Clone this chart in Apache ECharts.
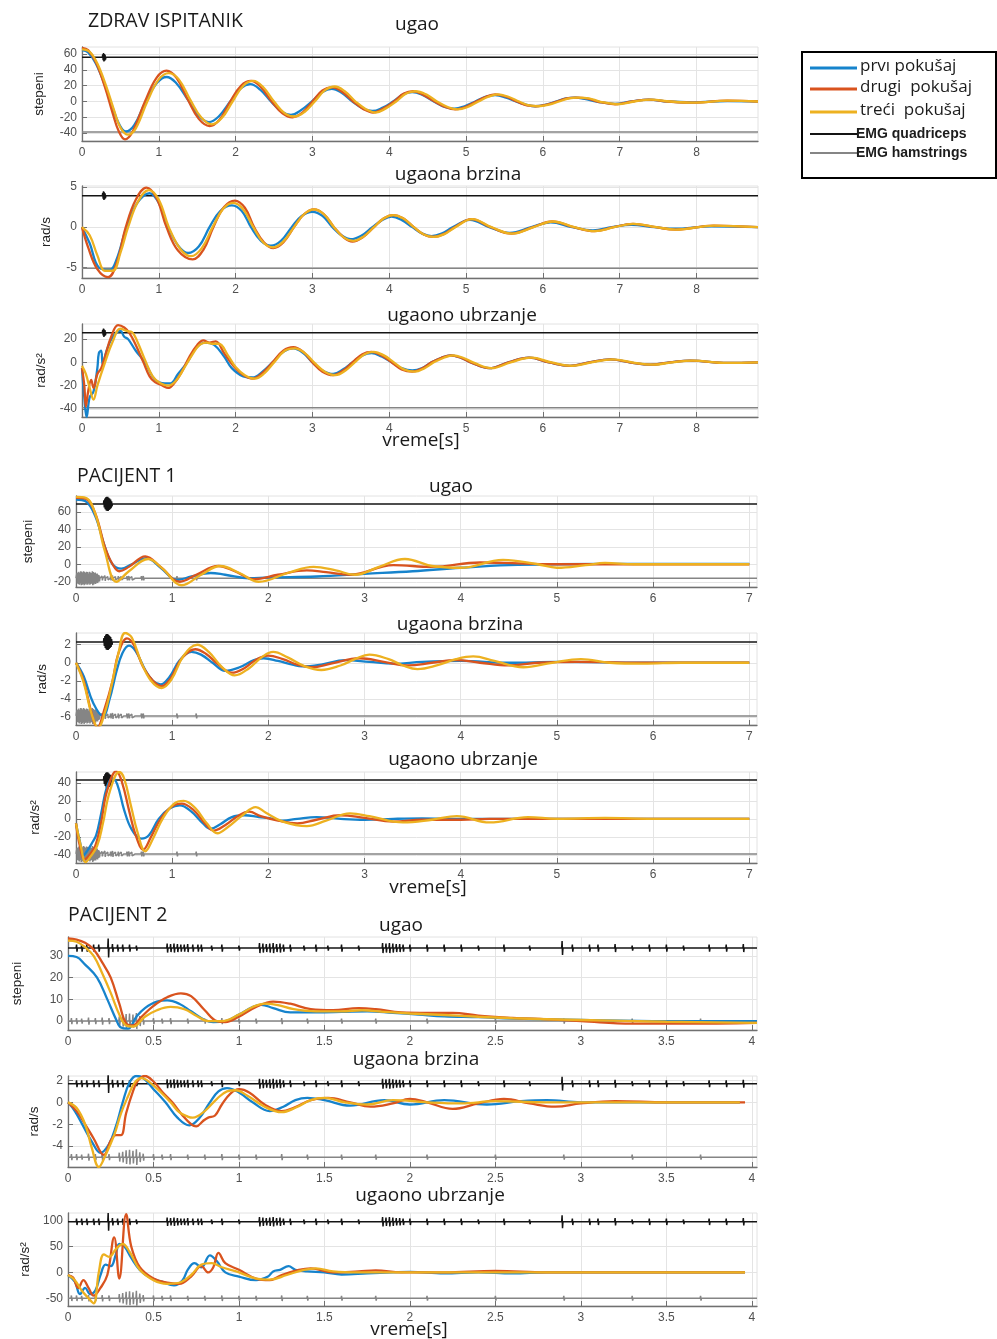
<!DOCTYPE html>
<html><head><meta charset="utf-8">
<script src="https://cdn.jsdelivr.net/npm/echarts@6/dist/echarts.min.js"></script>
<style>html,body{margin:0;padding:0;background:#fff}#c{width:997px;height:1339px}</style>
</head><body><div id="c"></div>
<script>
// ---------- tick labels ----------
const xTicksZ = [0,1,2,3,4,5,6,7,8];
const xTicksP1 = [0,1,2,3,4,5,6,7];
const xTicksP2 = [0,0.5,1,1.5,2,2.5,3,3.5,4];
const yTicksZ1 = [-40,-20,0,20,40,60];
const yTicksZ2 = [-5,0,5];
const yTicksZ3 = [-40,-20,0,20];
const yTicksP1a = [-20,0,20,40,60];
const yTicksP1b = [-6,-4,-2,0,2];
const yTicksP1c = [-40,-20,0,20,40];
const yTicksP2a = [0,10,20,30];
const yTicksP2b = [-4,-2,0,2];
const yTicksP2c = [-50,0,50,100];

// ---------- ZDRAV ISPITANIK ----------
const zUgaoPrvi = [[0,65],[0.08,62],[0.18,48],[0.3,20],[0.4,-8],[0.48,-28],[0.57,-38],[0.68,-30],[0.83,0],[0.98,24],[1.1,31],[1.22,24],[1.38,2],[1.52,-18],[1.65,-26],[1.78,-19],[1.93,0],[2.07,17],[2.19,22],[2.32,15],[2.46,0],[2.6,-13],[2.72,-17],[2.85,-11],[2.99,0],[3.13,12],[3.25,16],[3.38,11],[3.52,0],[3.66,-9],[3.78,-12],[3.91,-8],[4.05,0],[4.18,9],[4.3,12],[4.44,8],[4.58,0],[4.72,-7],[4.85,-9],[4.98,-6],[5.12,0],[5.25,6],[5.38,8],[5.52,5],[5.65,0],[5.78,-4],[5.9,-6],[6.04,-4],[6.17,0],[6.3,4],[6.42,5],[6.56,3],[6.7,0],[6.93,-3],[7.15,0],[7.38,2.5],[7.62,0],[7.95,-1],[8.4,0.5],[8.8,0]];
const zUgaoDrugi = [[0,68],[0.08,65],[0.18,50],[0.3,18],[0.4,-15],[0.48,-38],[0.56,-48],[0.66,-38],[0.82,0],[0.97,30],[1.1,39],[1.23,30],[1.38,2],[1.52,-22],[1.66,-31],[1.79,-23],[1.93,0],[2.07,20],[2.2,26],[2.33,18],[2.47,0],[2.61,-15],[2.74,-20],[2.87,-14],[3.0,0],[3.13,14],[3.26,18],[3.39,12],[3.53,0],[3.67,-10],[3.79,-14],[3.92,-9],[4.06,0],[4.19,10],[4.31,13],[4.45,8],[4.59,0],[4.73,-7],[4.86,-10],[4.99,-7],[5.13,0],[5.26,6],[5.38,9],[5.52,6],[5.66,0],[5.79,-5],[5.91,-6],[6.05,-4],[6.18,0],[6.31,4],[6.43,5],[6.57,4],[6.71,0],[6.94,-3.5],[7.16,0],[7.38,2.5],[7.63,0],[7.96,-1.5],[8.4,1],[8.8,0]];
const zUgaoTreci = [[0,66],[0.1,63],[0.2,48],[0.32,18],[0.42,-12],[0.5,-33],[0.6,-42],[0.7,-34],[0.85,0],[1.0,28],[1.13,36],[1.26,28],[1.41,2],[1.55,-20],[1.69,-29],[1.82,-21],[1.96,0],[2.1,20],[2.23,26],[2.36,18],[2.5,0],[2.64,-15],[2.77,-19],[2.9,-13],[3.03,0],[3.16,14],[3.29,19],[3.42,13],[3.56,0],[3.7,-10],[3.82,-14],[3.95,-9],[4.09,0],[4.22,10],[4.34,13],[4.48,9],[4.62,0],[4.76,-7],[4.89,-10],[5.02,-7],[5.16,0],[5.29,6],[5.41,9],[5.55,6],[5.69,0],[5.82,-5],[5.94,-6],[6.08,-4],[6.21,0],[6.34,4],[6.46,5],[6.6,4],[6.74,0],[6.97,-3.5],[7.19,0],[7.41,2.5],[7.66,0],[7.99,-1.5],[8.4,1],[8.8,0]];

const zBrzinaPrvi = [[0,0],[0.1,-2],[0.22,-5],[0.36,-5.3],[0.45,-4],[0.58,0],[0.72,3],[0.88,4.2],[1.0,3],[1.12,0],[1.26,-2.4],[1.38,-3.2],[1.52,-2.4],[1.66,0],[1.8,2],[1.95,2.7],[2.08,2],[2.2,0],[2.33,-1.7],[2.46,-2.3],[2.59,-1.7],[2.73,0],[2.86,1.4],[3.0,1.9],[3.13,1.4],[3.26,0],[3.39,-1.1],[3.5,-1.5],[3.63,-1.1],[3.78,0],[3.91,0.9],[4.03,1.3],[4.16,0.9],[4.3,0],[4.43,-0.8],[4.55,-1.1],[4.68,-0.8],[4.83,0],[5.05,0.9],[5.3,0],[5.57,-0.7],[5.85,0],[6.1,0.6],[6.38,0],[6.65,-0.4],[6.9,0],[7.15,0.3],[7.45,0],[7.7,-0.2],[8.2,0.1],[8.8,0]];
const zBrzinaDrugi = [[0,0],[0.08,-2.5],[0.2,-5.2],[0.34,-6.2],[0.45,-4.5],[0.57,0],[0.7,3.4],[0.84,4.9],[0.97,3.6],[1.1,0],[1.25,-2.9],[1.44,-4.0],[1.58,-2.8],[1.71,0],[1.85,2.5],[1.99,3.3],[2.12,2.4],[2.24,0],[2.37,-1.9],[2.49,-2.6],[2.62,-1.9],[2.76,0],[2.89,1.6],[3.02,2.2],[3.15,1.6],[3.28,0],[3.41,-1.3],[3.52,-1.8],[3.65,-1.3],[3.8,0],[3.93,1.1],[4.05,1.5],[4.18,1.1],[4.32,0],[4.45,-0.9],[4.57,-1.2],[4.7,-0.9],[4.85,0],[5.07,1.0],[5.32,0],[5.59,-0.8],[5.87,0],[6.12,0.7],[6.4,0],[6.67,-0.5],[6.92,0],[7.17,0.4],[7.47,0],[7.72,-0.3],[8.22,0.2],[8.8,0]];
const zBrzinaTreci = [[0,0],[0.1,-1],[0.2,-3.5],[0.3,-5.4],[0.4,-5.4],[0.5,-3.2],[0.6,0],[0.73,3.2],[0.87,4.6],[1.0,3.4],[1.13,0],[1.28,-2.7],[1.42,-3.6],[1.56,-2.6],[1.7,0],[1.84,2.3],[1.97,3.0],[2.1,2.2],[2.23,0],[2.36,-1.9],[2.49,-2.5],[2.62,-1.8],[2.76,0],[2.89,1.6],[3.02,2.2],[3.15,1.6],[3.28,0],[3.41,-1.3],[3.53,-1.7],[3.66,-1.2],[3.8,0],[3.93,1.1],[4.05,1.5],[4.18,1.1],[4.32,0],[4.45,-0.9],[4.58,-1.2],[4.71,-0.9],[4.86,0],[5.08,1.0],[5.33,0],[5.6,-0.8],[5.88,0],[6.13,0.7],[6.41,0],[6.68,-0.5],[6.93,0],[7.18,0.4],[7.48,0],[7.73,-0.3],[8.23,0.2],[8.8,0]];

const zUbrzanjePrvi = [[0,-5],[0.03,-30],[0.06,-47],[0.1,-30],[0.15,-25],[0.2,-5],[0.22,8],[0.25,10],[0.27,-2],[0.32,10],[0.4,22],[0.5,27],[0.55,22],[0.6,20],[0.7,10],[0.82,0],[0.95,-15],[1.08,-18],[1.15,-18],[1.25,-10],[1.37,0],[1.48,12],[1.6,17],[1.72,15],[1.85,5],[1.95,-5],[2.1,-12],[2.22,-13],[2.35,-8],[2.48,0],[2.62,9],[2.75,12],[2.88,8],[3.0,0],[3.13,-7],[3.27,-10],[3.4,-6],[3.52,0],[3.65,6],[3.77,8],[3.9,5],[4.03,0],[4.16,-5],[4.3,-7],[4.43,-5],[4.55,0],[4.68,4],[4.8,6],[4.93,4],[5.06,0],[5.3,-5],[5.55,0],[5.82,4],[6.08,0],[6.35,-3],[6.6,0],[6.88,2.5],[7.13,0],[7.4,-2],[7.65,0],[7.92,1.5],[8.4,-0.5],[8.8,0]];
const zUbrzanjeDrugi = [[0,-5],[0.03,-20],[0.05,-38],[0.08,-25],[0.12,-15],[0.15,-22],[0.2,-10],[0.25,-5],[0.3,5],[0.38,22],[0.47,32],[0.55,30],[0.62,25],[0.7,15],[0.8,0],[0.88,-12],[0.95,-17],[1.05,-20],[1.12,-22],[1.2,-18],[1.3,-8],[1.4,5],[1.5,15],[1.58,19],[1.66,17],[1.74,18],[1.85,8],[1.97,-3],[2.1,-11],[2.22,-14],[2.35,-9],[2.48,0],[2.62,10],[2.75,13],[2.88,9],[3.0,0],[3.13,-8],[3.27,-11],[3.4,-7],[3.52,0],[3.65,7],[3.77,9],[3.9,6],[4.03,0],[4.16,-6],[4.3,-8],[4.43,-5],[4.55,0],[4.68,4],[4.8,6],[4.93,4],[5.06,0],[5.3,-5],[5.55,0],[5.82,4],[6.08,0],[6.35,-3],[6.6,0],[6.88,2.5],[7.13,0],[7.4,-2],[7.65,0],[7.92,1.5],[8.4,-0.5],[8.8,0]];
const zUbrzanjeTreci = [[0,-3],[0.05,-10],[0.1,-22],[0.15,-32],[0.2,-20],[0.3,0],[0.4,18],[0.5,29],[0.58,27],[0.65,26],[0.72,18],[0.82,2],[0.92,-12],[1.02,-18],[1.12,-20],[1.22,-16],[1.32,-6],[1.43,6],[1.53,15],[1.62,17],[1.7,16],[1.78,16],[1.9,6],[2.0,-4],[2.12,-11],[2.25,-14],[2.38,-9],[2.5,0],[2.64,10],[2.77,12],[2.9,8],[3.02,0],[3.16,-8],[3.3,-11],[3.43,-7],[3.55,0],[3.68,7],[3.8,9],[3.93,6],[4.06,0],[4.19,-6],[4.33,-8],[4.46,-5],[4.58,0],[4.71,4],[4.83,6],[4.96,4],[5.09,0],[5.33,-5],[5.58,0],[5.85,4],[6.11,0],[6.38,-3],[6.63,0],[6.91,2.5],[7.16,0],[7.43,-2],[7.68,0],[7.95,1.5],[8.4,-0.5],[8.8,0]];

// EMG bursts: [time, amplitude]
const zEmgQuad = [[0.27,0.6],[0.28,0.9],[0.29,0.7],[0.3,0.5],[1.4,0.3],[3.5,0.2]];
const zEmgHam = [[0.61,0.3],[1.01,0.3]];

// ---------- PACIJENT 1 ----------
const p1UgaoPrvi = [[0,74],[0.1,72],[0.2,55],[0.3,20],[0.38,0],[0.47,-5],[0.58,0],[0.73,7],[0.88,-4],[1.05,-18],[1.2,-14],[1.4,-10],[1.55,-12],[1.8,-16],[2.0,-15],[2.5,-14],[3.0,-11],[3.5,-8],[4.0,-4],[4.5,-1],[5,0],[6,0.5],[7,0.5]];
const p1UgaoDrugi = [[0,76],[0.1,75],[0.2,58],[0.3,20],[0.38,0],[0.45,-8],[0.55,-3],[0.72,9],[0.88,-3],[1.08,-20],[1.25,-12],[1.48,-2],[1.65,-8],[1.85,-17],[2.1,-12],[2.4,-7],[2.6,-9],[2.85,-12],[3.3,-1],[3.7,-3],[4.2,2],[4.6,1],[5.0,0],[7,0]];
const p1UgaoTreci = [[0,77],[0.1,76],[0.2,58],[0.3,15],[0.42,-20],[0.55,-8],[0.75,6],[0.9,-5],[1.1,-24],[1.3,-12],[1.5,-2],[1.7,-10],[1.9,-20],[2.2,-10],[2.47,-3],[2.7,-7],[2.9,-12],[3.15,-3],[3.42,6],[3.7,-2],[4.0,-4],[4.44,5],[4.8,0],[5.0,-4],[5.3,-1],[5.5,1.5],[5.8,0],[7,0]];

const p1BrzinaPrvi = [[0,0],[0.08,-1.5],[0.18,-4.5],[0.28,-5.9],[0.35,-4],[0.42,-1],[0.48,1],[0.55,1.9],[0.62,1.3],[0.72,-0.8],[0.8,-2],[0.88,-2.4],[0.97,-1.6],[1.08,0.3],[1.2,1.2],[1.3,0.9],[1.42,0],[1.55,-0.9],[1.7,-0.5],[1.85,0.3],[1.95,0.5],[2.1,0.2],[2.25,-0.2],[2.35,-0.4],[2.55,-0.2],[2.8,0.3],[3.05,0.1],[3.3,-0.1],[3.6,0.1],[4.0,0.2],[4.5,0],[5.0,0.1],[6,0],[7,0]];
const p1BrzinaDrugi = [[0,0],[0.08,-2],[0.16,-5.5],[0.22,-7.2],[0.3,-5],[0.38,-2],[0.44,1],[0.53,2.7],[0.6,2],[0.7,-0.5],[0.8,-2],[0.89,-2.6],[0.98,-1.8],[1.1,0.5],[1.24,1.5],[1.35,1],[1.48,-0.2],[1.62,-1.1],[1.75,-0.6],[1.88,0.4],[2.0,0.8],[2.15,0.4],[2.3,-0.2],[2.45,-0.5],[2.65,-0.1],[2.95,0.5],[3.2,0.1],[3.45,-0.3],[3.7,0],[3.95,0.3],[4.2,0],[4.5,-0.3],[4.8,0],[5.2,0.1],[6,0],[7,0]];
const p1BrzinaTreci = [[0,0],[0.08,-2.2],[0.16,-5.6],[0.23,-7.2],[0.3,-5.5],[0.37,-2.5],[0.44,1],[0.51,3.3],[0.58,2.8],[0.68,0],[0.78,-2],[0.89,-2.8],[0.99,-1.9],[1.12,0.8],[1.26,2.0],[1.38,1.2],[1.52,-0.5],[1.65,-1.4],[1.8,-0.6],[1.93,0.6],[2.05,1.2],[2.2,0.6],[2.38,-0.4],[2.55,-0.8],[2.75,-0.3],[2.9,0.4],[3.05,0.9],[3.25,0.4],[3.4,-0.3],[3.55,-0.7],[3.75,-0.3],[3.95,0.4],[4.13,0.7],[4.35,0.2],[4.65,-0.5],[4.95,0],[5.25,0.4],[5.55,0],[5.9,-0.1],[6.3,0],[7,0]];

const p1UbrzanjePrvi = [[0,-5],[0.04,-25],[0.08,-40],[0.12,-35],[0.16,-28],[0.21,-18],[0.26,5],[0.32,35],[0.38,45],[0.43,38],[0.5,10],[0.58,-12],[0.68,-22],[0.76,-18],[0.86,0],[0.98,12],[1.08,15],[1.2,8],[1.32,-5],[1.4,-11],[1.5,-6],[1.62,2],[1.75,4],[1.9,2],[2.05,0],[2.15,-2],[2.3,0],[2.5,2],[2.75,0],[3.0,-1],[3.3,0],[3.6,0.5],[4.0,0],[5,0],[6,0],[7,0]];
const p1UbrzanjeDrugi = [[0,-5],[0.04,-30],[0.09,-45],[0.14,-40],[0.2,-30],[0.26,-5],[0.32,30],[0.42,53],[0.48,40],[0.55,10],[0.62,-18],[0.7,-34],[0.78,-20],[0.88,0],[1.0,14],[1.1,17],[1.22,10],[1.34,-5],[1.43,-13],[1.55,-7],[1.68,3],[1.8,8],[1.92,3],[2.1,-2],[2.3,-5],[2.5,-1],[2.75,4],[3.0,1],[3.3,-3],[3.6,-1],[4.0,-1],[4.3,0],[5,0],[6,0],[7,0]];
const p1UbrzanjeTreci = [[0,-5],[0.05,-30],[0.1,-48],[0.15,-42],[0.22,-30],[0.28,-5],[0.35,30],[0.45,52],[0.5,45],[0.57,15],[0.64,-15],[0.72,-36],[0.8,-22],[0.9,0],[1.02,17],[1.12,20],[1.24,12],[1.36,-5],[1.47,-16],[1.58,-9],[1.72,3],[1.87,13],[1.97,7],[2.15,-3],[2.4,-8],[2.6,-2],[2.85,6],[3.05,3],[3.4,-4],[3.7,-1],[3.96,3],[4.3,-4],[4.7,2],[5.0,0],[5.5,1],[6,0],[7,0]];

const p1EmgQuad = [[0.05,0.3],[0.15,0.4],[0.29,0.8],[0.3,1.2],[0.31,1.5],[0.32,1.6],[0.33,1.6],[0.34,1.4],[0.35,1.2],[0.36,1.0],[0.37,0.6],[0.45,0.3],[0.58,0.4],[0.63,0.3],[0.66,0.35],[0.72,0.3],[0.76,0.3],[0.82,0.25],[0.88,0.3],[0.93,0.2]];
const p1EmgHam = [[0.01,1.2],[0.02,1.3],[0.03,1.5],[0.04,1.2],[0.05,1.6],[0.06,1.5],[0.07,1.3],[0.08,1.6],[0.09,1.4],[0.1,1.2],[0.11,1.5],[0.12,1.4],[0.13,1.1],[0.14,1.5],[0.15,1.3],[0.16,1.2],[0.17,1.6],[0.18,1.4],[0.19,1.2],[0.2,1.3],[0.21,1.0],[0.22,1.1],[0.23,0.8],[0.24,0.7],[0.27,0.5],[0.3,0.6],[0.33,0.4],[0.36,0.5],[0.38,0.6],[0.41,0.4],[0.44,0.5],[0.47,0.4],[0.5,0.3],[0.53,0.5],[0.55,0.5],[0.58,0.4],[0.62,0.4],[0.65,0.3],[0.68,0.5],[0.7,0.5],[0.74,0.3],[0.78,0.3],[0.82,0.4],[0.85,0.4],[0.9,0.3],[0.95,0.4],[1.0,0.3],[1.05,0.5],[1.1,0.3],[1.15,0.3],[1.2,0.4],[1.25,0.5],[1.3,0.3],[1.35,0.3],[1.4,0.4],[1.45,0.3],[1.5,0.3],[1.55,0.3],[1.6,0.4],[1.7,0.3],[1.8,0.4],[1.85,0.3],[1.9,0.3],[2.0,0.3],[2.1,0.3],[2.15,0.3],[2.3,0.3],[2.45,0.3],[2.6,0.3],[2.9,0.2],[3.2,0.3],[3.6,0.2],[4.0,0.3],[4.5,0.2],[5.2,0.3],[5.8,0.2],[6.3,0.2],[6.9,0.4]];

// ---------- PACIJENT 2 ----------
const p2UgaoPrvi = [[0,30],[0.05,29.5],[0.1,26],[0.17,20],[0.23,10],[0.28,1],[0.31,-3],[0.35,-3.5],[0.4,2],[0.45,6],[0.52,9],[0.58,9.5],[0.65,8],[0.72,4.5],[0.8,0.5],[0.85,-0.5],[0.92,0],[1.0,3],[1.08,6.5],[1.13,7.5],[1.2,6],[1.3,4],[1.45,4],[1.6,4.2],[1.75,4.5],[1.9,3.8],[2.05,3],[2.2,2.2],[2.4,1.8],[2.6,1.2],[3.0,0.5],[3.5,0],[4.03,0]];
const p2UgaoDrugi = [[0,38],[0.05,37.5],[0.1,36],[0.15,33],[0.2,27],[0.25,20],[0.3,8],[0.34,-1],[0.38,-2],[0.43,2],[0.5,7],[0.58,11],[0.66,12.8],[0.72,11.5],[0.8,5],[0.87,0],[0.92,-0.5],[1.0,2],[1.1,6.5],[1.2,9],[1.3,8],[1.42,5.5],[1.55,5],[1.7,6],[1.8,5.5],[1.95,4],[2.1,3.8],[2.25,3.8],[2.4,2.5],[2.6,1.5],[2.8,0.8],[3.0,0],[3.3,-1.2],[3.6,-1.2],[4.03,-0.8]];
const p2UgaoTreci = [[0,37],[0.05,36.5],[0.1,34],[0.15,30],[0.2,22],[0.25,13],[0.3,3],[0.34,-2],[0.38,-2.5],[0.45,2],[0.52,5],[0.6,6.5],[0.68,5.5],[0.75,2.5],[0.82,0],[0.9,0],[1.0,3],[1.08,6.5],[1.15,8],[1.22,7.5],[1.32,5.5],[1.45,4.5],[1.6,4.5],[1.72,5],[1.85,4.2],[2.0,3.5],[2.2,2.8],[2.4,2],[2.6,1.3],[3.0,0.5],[3.5,-0.3],[4.03,-0.8]];

const p2BrzinaPrvi = [[0,0],[0.04,-0.8],[0.09,-2.2],[0.14,-3.6],[0.19,-4.6],[0.24,-3.8],[0.28,-2.2],[0.32,0],[0.36,1.8],[0.4,2.4],[0.44,2.2],[0.5,1.2],[0.57,0],[0.64,-1.4],[0.71,-2.1],[0.77,-1.4],[0.83,0],[0.88,1],[0.93,1.3],[1.0,0.9],[1.08,0],[1.18,-0.8],[1.26,-0.4],[1.33,0.2],[1.4,0.4],[1.5,0.2],[1.65,-0.3],[1.85,0.2],[2.0,-0.2],[2.2,0.2],[2.45,-0.2],[2.65,0.1],[2.8,0.2],[3.0,0],[3.3,0],[3.93,0]];
const p2BrzinaDrugi = [[0,0],[0.05,-0.8],[0.1,-2],[0.15,-3.3],[0.21,-4.8],[0.25,-3.5],[0.28,-3],[0.31,-3],[0.34,-1],[0.38,1],[0.41,2],[0.45,2.4],[0.5,1.9],[0.56,0.8],[0.61,0],[0.67,-1.2],[0.72,-2],[0.75,-2.2],[0.79,-1.7],[0.82,-1.4],[0.86,-1.2],[0.9,-0.2],[0.95,0.8],[1.0,1.2],[1.06,0.9],[1.15,-0.2],[1.25,-0.8],[1.32,-0.5],[1.42,0.2],[1.52,0.4],[1.65,0],[1.77,-0.4],[1.9,-0.1],[2.0,0.3],[2.1,0],[2.25,-0.6],[2.4,-0.1],[2.55,0.3],[2.7,-0.1],[2.85,-0.4],[3.0,-0.1],[3.2,0.1],[3.5,0],[3.96,0]];
const p2BrzinaTreci = [[0,0],[0.05,-0.5],[0.1,-2],[0.14,-4.2],[0.18,-5.9],[0.22,-4.8],[0.27,-3],[0.31,-1],[0.35,0.5],[0.39,1.8],[0.43,2.2],[0.48,1.8],[0.55,0.8],[0.6,0],[0.65,-0.9],[0.7,-1.3],[0.73,-1.4],[0.8,-0.8],[0.87,0.3],[0.93,1],[0.98,1.1],[1.05,0.6],[1.15,-0.4],[1.25,-0.9],[1.33,-0.5],[1.42,0.2],[1.5,0.4],[1.62,0],[1.75,-0.2],[1.9,0.2],[2.1,0],[2.3,-0.1],[2.5,0.1],[2.8,0],[3.93,0]];

const p2UbrzanjePrvi = [[0,-5],[0.04,-18],[0.07,-42],[0.1,-30],[0.13,-42],[0.16,-35],[0.19,-5],[0.22,15],[0.25,12],[0.28,35],[0.3,55],[0.33,50],[0.37,28],[0.42,5],[0.48,-10],[0.55,-18],[0.62,-25],[0.67,-15],[0.7,5],[0.74,18],[0.78,10],[0.83,33],[0.87,22],[0.92,0],[1.0,-8],[1.1,-15],[1.17,-8],[1.2,2],[1.24,5],[1.29,12],[1.33,5],[1.4,2],[1.5,0],[1.6,-4],[1.75,-2],[1.9,0],[2.0,1],[2.2,-2],[2.4,0],[2.6,-2],[2.8,0],[3.0,0],[3.96,0]];
const p2UbrzanjeDrugi = [[0,-5],[0.03,-10],[0.06,-30],[0.09,-15],[0.12,-30],[0.15,-45],[0.19,-30],[0.23,-5],[0.27,68],[0.3,-12],[0.34,113],[0.37,50],[0.42,10],[0.5,-12],[0.58,-20],[0.65,-22],[0.72,-8],[0.78,12],[0.82,0],[0.85,10],[0.88,38],[0.92,18],[1.0,5],[1.1,-12],[1.18,-15],[1.25,-5],[1.35,5],[1.42,8],[1.55,0],[1.7,2],[1.8,4],[1.95,0],[2.2,0],[2.5,3],[2.8,0],[3.0,0],[3.96,0]];
const p2UbrzanjeTreci = [[0,-5],[0.04,-15],[0.08,-35],[0.12,-50],[0.15,-60],[0.18,0],[0.21,35],[0.24,30],[0.28,45],[0.32,55],[0.36,40],[0.42,5],[0.5,-15],[0.58,-22],[0.65,-20],[0.72,-5],[0.78,15],[0.84,18],[0.9,10],[1.0,0],[1.1,-12],[1.18,-14],[1.28,-5],[1.38,5],[1.45,8],[1.55,2],[1.7,0],[2.0,0],[2.3,0],[3.0,0],[3.96,0]];

const p2EmgQuad = [[0.05,0.7],[0.08,0.7],[0.11,0.7],[0.15,0.7],[0.18,0.7],[0.235,1.9],[0.26,0.8],[0.29,0.7],[0.32,0.7],[0.36,0.7],[0.4,0.5],[0.58,0.9],[0.6,0.8],[0.62,0.9],[0.64,0.8],[0.66,0.7],[0.68,0.7],[0.7,0.8],[0.73,0.7],[0.76,0.7],[0.78,0.7],[0.84,0.5],[0.9,0.7],[1.0,0.5],[1.12,1.0],[1.14,0.9],[1.16,0.8],[1.18,0.9],[1.2,1.0],[1.22,0.8],[1.24,0.9],[1.26,0.7],[1.3,0.7],[1.38,0.5],[1.45,0.7],[1.52,0.5],[1.6,0.7],[1.7,0.5],[1.84,1.0],[1.86,0.9],[1.88,1.0],[1.9,0.9],[1.92,0.8],[1.94,0.8],[1.96,0.7],[2.0,0.7],[2.1,0.7],[2.2,0.7],[2.3,0.7],[2.4,0.5],[2.55,0.7],[2.7,0.5],[2.89,1.4],[2.95,0.7],[3.05,0.7],[3.1,0.7],[3.2,0.8],[3.3,0.5],[3.4,0.7],[3.5,0.7],[3.6,0.5],[3.75,0.7],[3.85,0.7],[3.95,0.8]];
const p2EmgHam = [[0.02,0.6],[0.05,0.6],[0.08,0.5],[0.12,0.7],[0.16,0.6],[0.2,0.7],[0.24,0.6],[0.3,0.9],[0.32,1.1],[0.34,1.4],[0.36,1.5],[0.38,1.3],[0.4,1.6],[0.42,1.0],[0.44,0.7],[0.5,0.6],[0.55,0.5],[0.6,0.6],[0.7,0.5],[0.8,0.5],[0.9,0.6],[1.0,0.5],[1.1,0.5],[1.25,0.6],[1.4,0.5],[1.6,0.5],[1.8,0.5],[2.1,0.5],[2.5,0.5],[2.9,0.5],[3.3,0.5],[3.7,0.5]];

// ---------- layout ----------
const trialColors = ['#1683cc','#d9531e','#edb120'];
const trialNames = ['prvı pokušaj','drugi pokušaj','treći pokušaj'];
const panels = [
 {left:82,top:47,width:676,height:94,xMax:8.8,xTicks:xTicksZ,yMin:-50,yMax:69,yTicks:yTicksZ1,name:'stepeni',gap:36,curves:[zUgaoPrvi,zUgaoDrugi,zUgaoTreci],q:[zEmgQuad,56,6],h:[zEmgHam,-38.7,4]},
 {left:82,top:186,width:676,height:92,xMax:8.8,xTicks:xTicksZ,yMin:-6.3,yMax:5.1,yTicks:yTicksZ2,name:'rad/s',gap:29,curves:[zBrzinaPrvi,zBrzinaDrugi,zBrzinaTreci],q:[zEmgQuad,3.9,0.6],h:[zEmgHam,-5.1,0.4]},
 {left:82,top:324,width:676,height:93,xMax:8.8,xTicks:xTicksZ,yMin:-47,yMax:33,yTicks:yTicksZ3,name:'rad/s²',gap:33,curves:[zUbrzanjePrvi,zUbrzanjeDrugi,zUbrzanjeTreci],q:[zEmgQuad,25.5,4],h:[zEmgHam,-39,3]},
 {left:76,top:496,width:681,height:91,xMax:7.08,xTicks:xTicksP1,yMin:-26,yMax:78,yTicks:yTicksP1a,name:'stepeni',gap:41,curves:[p1UgaoPrvi,p1UgaoDrugi,p1UgaoTreci],q:[p1EmgQuad,69,5],h:[p1EmgHam,-16,5]},
 {left:76,top:633,width:681,height:92,xMax:7.08,xTicks:xTicksP1,yMin:-6.9,yMax:3.3,yTicks:yTicksP1b,name:'rad/s',gap:23,curves:[p1BrzinaPrvi,p1BrzinaDrugi,p1BrzinaTreci],q:[p1EmgQuad,2.3,0.55],h:[p1EmgHam,-5.9,0.55]},
 {left:76,top:772,width:681,height:91,xMax:7.08,xTicks:xTicksP1,yMin:-49,yMax:52,yTicks:yTicksP1c,name:'rad/s²',gap:30,curves:[p1UbrzanjePrvi,p1UbrzanjeDrugi,p1UbrzanjeTreci],q:[p1EmgQuad,43,5.5],h:[p1EmgHam,-39,5.5]},
 {left:68,top:937,width:689,height:93,xMax:4.03,xTicks:xTicksP2,yMin:-4.1,yMax:38.7,yTicks:yTicksP2a,name:'stepeni',gap:44,curves:[p2UgaoPrvi,p2UgaoDrugi,p2UgaoTreci],q:[p2EmgQuad,33.6,2.3],h:[p2EmgHam,0,2.3]},
 {left:68,top:1076,width:689,height:91,xMax:4.03,xTicks:xTicksP2,yMin:-5.9,yMax:2.4,yTicks:yTicksP2b,name:'rad/s',gap:21,curves:[p2BrzinaPrvi,p2BrzinaDrugi,p2BrzinaTreci],q:[p2EmgQuad,1.7,0.45],h:[p2EmgHam,-5.0,0.45]},
 {left:68,top:1213,width:689,height:93,xMax:4.03,xTicks:xTicksP2,yMin:-65,yMax:115,yTicks:yTicksP2c,name:'rad/s²',gap:26,curves:[p2UbrzanjePrvi,p2UbrzanjeDrugi,p2UbrzanjeTreci],q:[p2EmgQuad,98,9],h:[p2EmgHam,-50,9]}
];

// turn a list of short EMG bursts into a trace around its baseline
function emgTrace(bursts, xMax, base, amp){
  const hw = xMax/1600;
  const pts = [[0,base]];
  bursts.forEach(b=>{
    pts.push([b[0]-hw,base],[b[0],base+b[1]*amp],[b[0]+hw,base-b[1]*amp],[b[0]+2*hw,base]);
  });
  pts.push([xMax,base]);
  return pts;
}

const axisColor = '#707070';
const labelStyle = {fontSize:12,color:'#505050',fontFamily:'Liberation Sans'};
const grids=[], xAxes=[], yAxes=[], series=[];
panels.forEach((p,i)=>{
  grids.push({left:p.left,top:p.top,width:p.width,height:p.height,show:true,borderColor:'#e2e2e2',borderWidth:1,backgroundColor:'transparent'});
  xAxes.push({type:'value',gridIndex:i,min:0,max:p.xMax,
    axisLine:{show:true,onZero:false,lineStyle:{color:axisColor,width:1.3}},
    axisTick:{show:true,inside:true,length:5,customValues:p.xTicks,lineStyle:{color:axisColor}},
    axisLabel:Object.assign({customValues:p.xTicks,margin:6,formatter:v=>String(v)},labelStyle),
    splitLine:{show:true,lineStyle:{color:'#e4e4e4',width:1}}});
  yAxes.push({type:'value',gridIndex:i,min:p.yMin,max:p.yMax,name:p.name,nameLocation:'middle',nameRotate:90,nameGap:p.gap,
    nameTextStyle:{fontSize:13.5,color:'#222',fontFamily:'Liberation Sans'},
    axisLine:{show:true,onZero:false,lineStyle:{color:axisColor,width:1.3}},
    axisTick:{show:true,inside:true,length:5,customValues:p.yTicks,lineStyle:{color:axisColor}},
    axisLabel:Object.assign({customValues:p.yTicks,margin:5},labelStyle),
    splitLine:{show:true,lineStyle:{color:'#e4e4e4',width:1}}});
  series.push({type:'line',name:'EMG quadriceps',xAxisIndex:i,yAxisIndex:i,symbol:'none',silent:true,z:2,
    data:emgTrace(p.q[0],p.xMax,p.q[1],p.q[2]),lineStyle:{color:'#141414',width:1.5}});
  series.push({type:'line',name:'EMG hamstrings',xAxisIndex:i,yAxisIndex:i,symbol:'none',silent:true,z:2,
    data:emgTrace(p.h[0],p.xMax,p.h[1],p.h[2]),lineStyle:{color:'#858585',width:1.5}});
  p.curves.forEach((c,k)=>{
    series.push({type:'line',name:trialNames[k],xAxisIndex:i,yAxisIndex:i,symbol:'none',smooth:0.4,silent:true,z:3,
      data:c,lineStyle:{color:trialColors[k],width:2.3}});
  });
});

const titleTexts = [
 ['ZDRAV ISPITANIK',88,21,'left'],['ugao',417,25,'center'],['ugaona brzina',458,175,'center'],['ugaono ubrzanje',462,316,'center'],['vreme[s]',421,441,'center'],
 ['PACIJENT 1',77,476,'left'],['ugao',451,487,'center'],['ugaona brzina',460,625,'center'],['ugaono ubrzanje',463,760,'center'],['vreme[s]',428,888,'center'],
 ['PACIJENT 2',68,915,'left'],['ugao',401,926,'center'],['ugaona brzina',416,1060,'center'],['ugaono ubrzanje',430,1196,'center'],['vreme[s]',409,1330,'center']
];
const graphic = titleTexts.map(t=>({type:'text',x:t[1],y:t[2],silent:true,
  style:{text:t[0],fontSize:t[3]==='left'?19.5:19,fontFamily:'Open Sans',fill:'#1a1a1a',align:t[3],verticalAlign:'middle'}}));
// legend box
graphic.push({type:'rect',shape:{x:802,y:52,width:194,height:126},style:{fill:'#fff',stroke:'#000',lineWidth:2}});
const legendRows = [
 {y:68,color:trialColors[0],w:3,text:trialNames[0],big:true},
 {y:89,color:trialColors[1],w:3,text:'drugi  pokušaj',big:true},
 {y:112,color:trialColors[2],w:3,text:'treći  pokušaj',big:true},
 {y:134,color:'#141414',w:2,text:'EMG quadriceps',big:false},
 {y:153,color:'#858585',w:2,text:'EMG hamstrings',big:false}
];
legendRows.forEach(r=>{
  graphic.push({type:'line',shape:{x1:810,y1:r.y,x2:857,y2:r.y},style:{stroke:r.color,lineWidth:r.w}});
  graphic.push({type:'text',x:r.big?860:856,y:r.y-(r.big?2:0),style:{text:r.text,fontSize:r.big?17:14,fontWeight:r.big?'normal':'bold',fontFamily:r.big?'Open Sans':'Liberation Sans',fill:'#1c1c1c',align:'left',verticalAlign:'middle'}});
});

const chart = echarts.init(document.getElementById('c'),null,{renderer:'canvas'});
chart.setOption({animation:false,backgroundColor:'#fff',grid:grids,xAxis:xAxes,yAxis:yAxes,series:series,graphic:graphic});
</script></body></html>
